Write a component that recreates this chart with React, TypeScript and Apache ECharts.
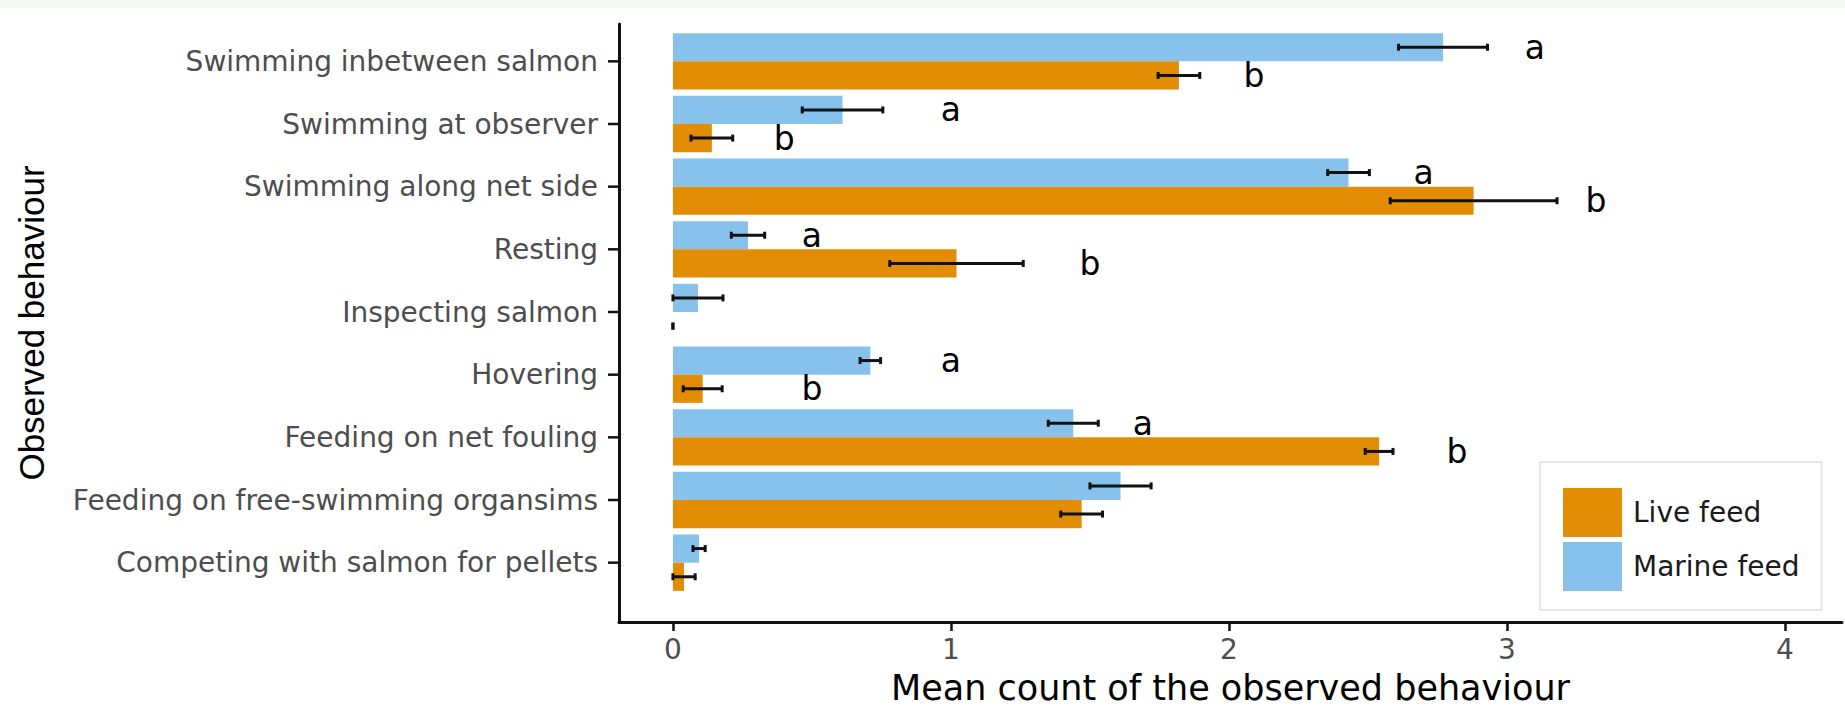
import React, { useEffect, useRef } from "react";
import * as echarts from "echarts";

const categories = [
  "Swimming inbetween salmon",
  "Swimming at observer",
  "Swimming along net side",
  "Resting",
  "Inspecting salmon",
  "Hovering",
  "Feeding on net fouling",
  "Feeding on free-swimming organsims",
  "Competing with salmon for pellets",
];

const marineMean = [2.77, 0.61, 2.43, 0.27, 0.09, 0.71, 1.44, 1.61, 0.094];
const marineErr = [0.16, 0.145, 0.075, 0.06, 0.09, 0.037, 0.09, 0.11, 0.022];
const liveMean = [1.82, 0.14, 2.88, 1.02, 0, 0.107, 2.54, 1.47, 0.04];
const liveErr = [0.075, 0.075, 0.3, 0.24, 0, 0.07, 0.05, 0.075, 0.04];

const marineLetter = ["a", "a", "a", "a", "", "a", "a", "", ""];
const marineLetterX = [3.1, 1.0, 2.7, 0.5, 0, 1.0, 1.69, 0, 0];
const liveLetter = ["b", "b", "b", "b", "", "b", "b", "", ""];
const liveLetterX = [2.09, 0.4, 3.32, 1.5, 0, 0.5, 2.82, 0, 0];

const xTicks = [0, 1, 2, 3, 4];
const X_MIN = -0.194;
const X_MAX = 4.205;

const ORANGE = "#E38D05";
const BLUE = "#86C2EC";
const AXIS_COLOR = "#111";

function makeErrorSeries(
  name: string,
  means: number[],
  errs: number[],
  letters: string[],
  letterX: number[],
  side: number
) {
  return {
    type: "custom",
    name,
    xAxisIndex: 0,
    yAxisIndex: 0,
    clip: false,
    z: 5,
    silent: true,
    encode: { x: [0, 2], y: 1 },
    data: means.map((m, i) => [m - errs[i], i, m + errs[i]]),
    renderItem: (params: any, api: any) => {
      const i = params.dataIndex;
      const cat = api.value(1);
      const band = api.size([0, 1])[1];
      const barH = (band * 0.9) / 2;
      const p0 = api.coord([api.value(0), cat]);
      const p1 = api.coord([api.value(2), cat]);
      const y = p0[1] + (side * barH) / 2;
      const cap = 3.5;
      const ls = { stroke: "#111", lineWidth: 3 };
      const children: any[] = [
        { type: "line", shape: { x1: p0[0], y1: y, x2: p1[0], y2: y }, style: ls },
        { type: "line", shape: { x1: p0[0], y1: y - cap, x2: p0[0], y2: y + cap }, style: ls },
        { type: "line", shape: { x1: p1[0], y1: y - cap, x2: p1[0], y2: y + cap }, style: ls },
      ];
      if (letters[i]) {
        const pl = api.coord([letterX[i], cat]);
        children.push({
          type: "text",
          x: pl[0],
          y: y,
          style: {
            text: letters[i],
            fontSize: 33,
            fontFamily: "DejaVu Sans",
            fill: "#000",
            align: "center",
            verticalAlign: "middle",
          },
        });
      }
      return { type: "group", children };
    },
  };
}

const categoryTickSeries = {
  type: "custom",
  name: "category ticks",
  xAxisIndex: 0,
  yAxisIndex: 0,
  clip: false,
  silent: true,
  z: 6,
  encode: { x: 0, y: 1 },
  data: categories.map((_, i) => [X_MIN, i]),
  renderItem: (_params: any, api: any) => {
    const p = api.coord([api.value(0), api.value(1)]);
    return {
      type: "line",
      shape: { x1: p[0] - 11, y1: p[1], x2: p[0], y2: p[1] },
      style: { stroke: AXIS_COLOR, lineWidth: 2.5 },
    };
  },
};

export default function App() {
  const ref = useRef<HTMLDivElement>(null);
  useEffect(() => {
    if (!ref.current) return;
    const chart = echarts.init(ref.current, undefined, { renderer: "svg" });
    chart.setOption({
      animation: false,
      backgroundColor: "#ffffff",
      graphic: [
        {
          type: "rect",
          silent: true,
          shape: { x: 0, y: 0, width: 1845, height: 8 },
          style: { fill: "#f3f8f5" },
        },
      ],
      grid: [
        { left: 619, top: 30, width: 1223, height: 564 },
        { left: 619, top: 24, width: 1223, height: 598 },
      ],
      legend: {
        data: ["Live feed", "Marine feed"],
        orient: "vertical",
        left: 1540,
        top: 462,
        padding: [26, 22, 19, 23],
        itemWidth: 59,
        itemHeight: 49,
        itemGap: 5,
        icon: "rect",
        selectedMode: false,
        borderColor: "#e6e6e6",
        borderWidth: 2,
        backgroundColor: "#ffffff",
        textStyle: {
          fontSize: 28,
          fontFamily: "DejaVu Sans",
          color: "#1a1a1a",
          padding: [0, 0, 0, 6],
        },
      },
      xAxis: [
        { gridIndex: 0, type: "value", min: X_MIN, max: X_MAX, show: false },
        {
          gridIndex: 1,
          type: "value",
          min: X_MIN,
          max: X_MAX,
          axisLine: { show: true, onZero: false, lineStyle: { color: AXIS_COLOR, width: 3 } },
          axisTick: {
            show: true,
            length: 9,
            customValues: xTicks,
            lineStyle: { color: AXIS_COLOR, width: 2.5 },
          },
          axisLabel: {
            customValues: xTicks,
            fontSize: 28,
            fontFamily: "DejaVu Sans",
            color: "#4d4d4d",
            margin: 13,
          },
          splitLine: { show: false },
          name: "Mean count of the observed behaviour",
          nameLocation: "middle",
          nameGap: 48,
          nameTextStyle: { fontSize: 35, fontFamily: "DejaVu Sans", color: "#000" },
        },
      ],
      yAxis: [
        {
          gridIndex: 0,
          type: "category",
          data: categories,
          inverse: true,
          position: "left",
          axisLine: { show: true, onZero: false, lineStyle: { color: AXIS_COLOR, width: 3 } },
          axisTick: { show: false },
          axisLabel: {
            margin: 21,
            fontSize: 28,
            fontFamily: "DejaVu Sans",
            color: "#4d4d4d",
          },
          splitLine: { show: false },
        },
        {
          gridIndex: 1,
          type: "value",
          min: 0,
          max: 1,
          axisLine: { show: true, onZero: false, lineStyle: { color: AXIS_COLOR, width: 3 } },
          axisTick: { show: false },
          axisLabel: { show: false },
          splitLine: { show: false },
          name: "Observed behaviour",
          nameLocation: "middle",
          nameGap: 570,
          nameTextStyle: { fontSize: 35, fontFamily: "Liberation Sans", color: "#000" },
        },
      ],
      series: [
        {
          type: "bar",
          name: "Marine feed",
          xAxisIndex: 0,
          yAxisIndex: 0,
          data: marineMean,
          itemStyle: { color: BLUE },
          barCategoryGap: "10%",
          barGap: "0%",
        },
        {
          type: "bar",
          name: "Live feed",
          xAxisIndex: 0,
          yAxisIndex: 0,
          data: liveMean,
          itemStyle: { color: ORANGE },
          barCategoryGap: "10%",
          barGap: "0%",
        },
        makeErrorSeries("Marine err", marineMean, marineErr, marineLetter, marineLetterX, -1),
        makeErrorSeries("Live err", liveMean, liveErr, liveLetter, liveLetterX, 1),
        categoryTickSeries,
      ],
    });
    return () => chart.dispose();
  }, []);
  return (
    <div
      ref={ref}
      style={{ position: "fixed", left: 0, top: 0, width: 1845, height: 711, background: "#fff" }}
    />
  );
}
